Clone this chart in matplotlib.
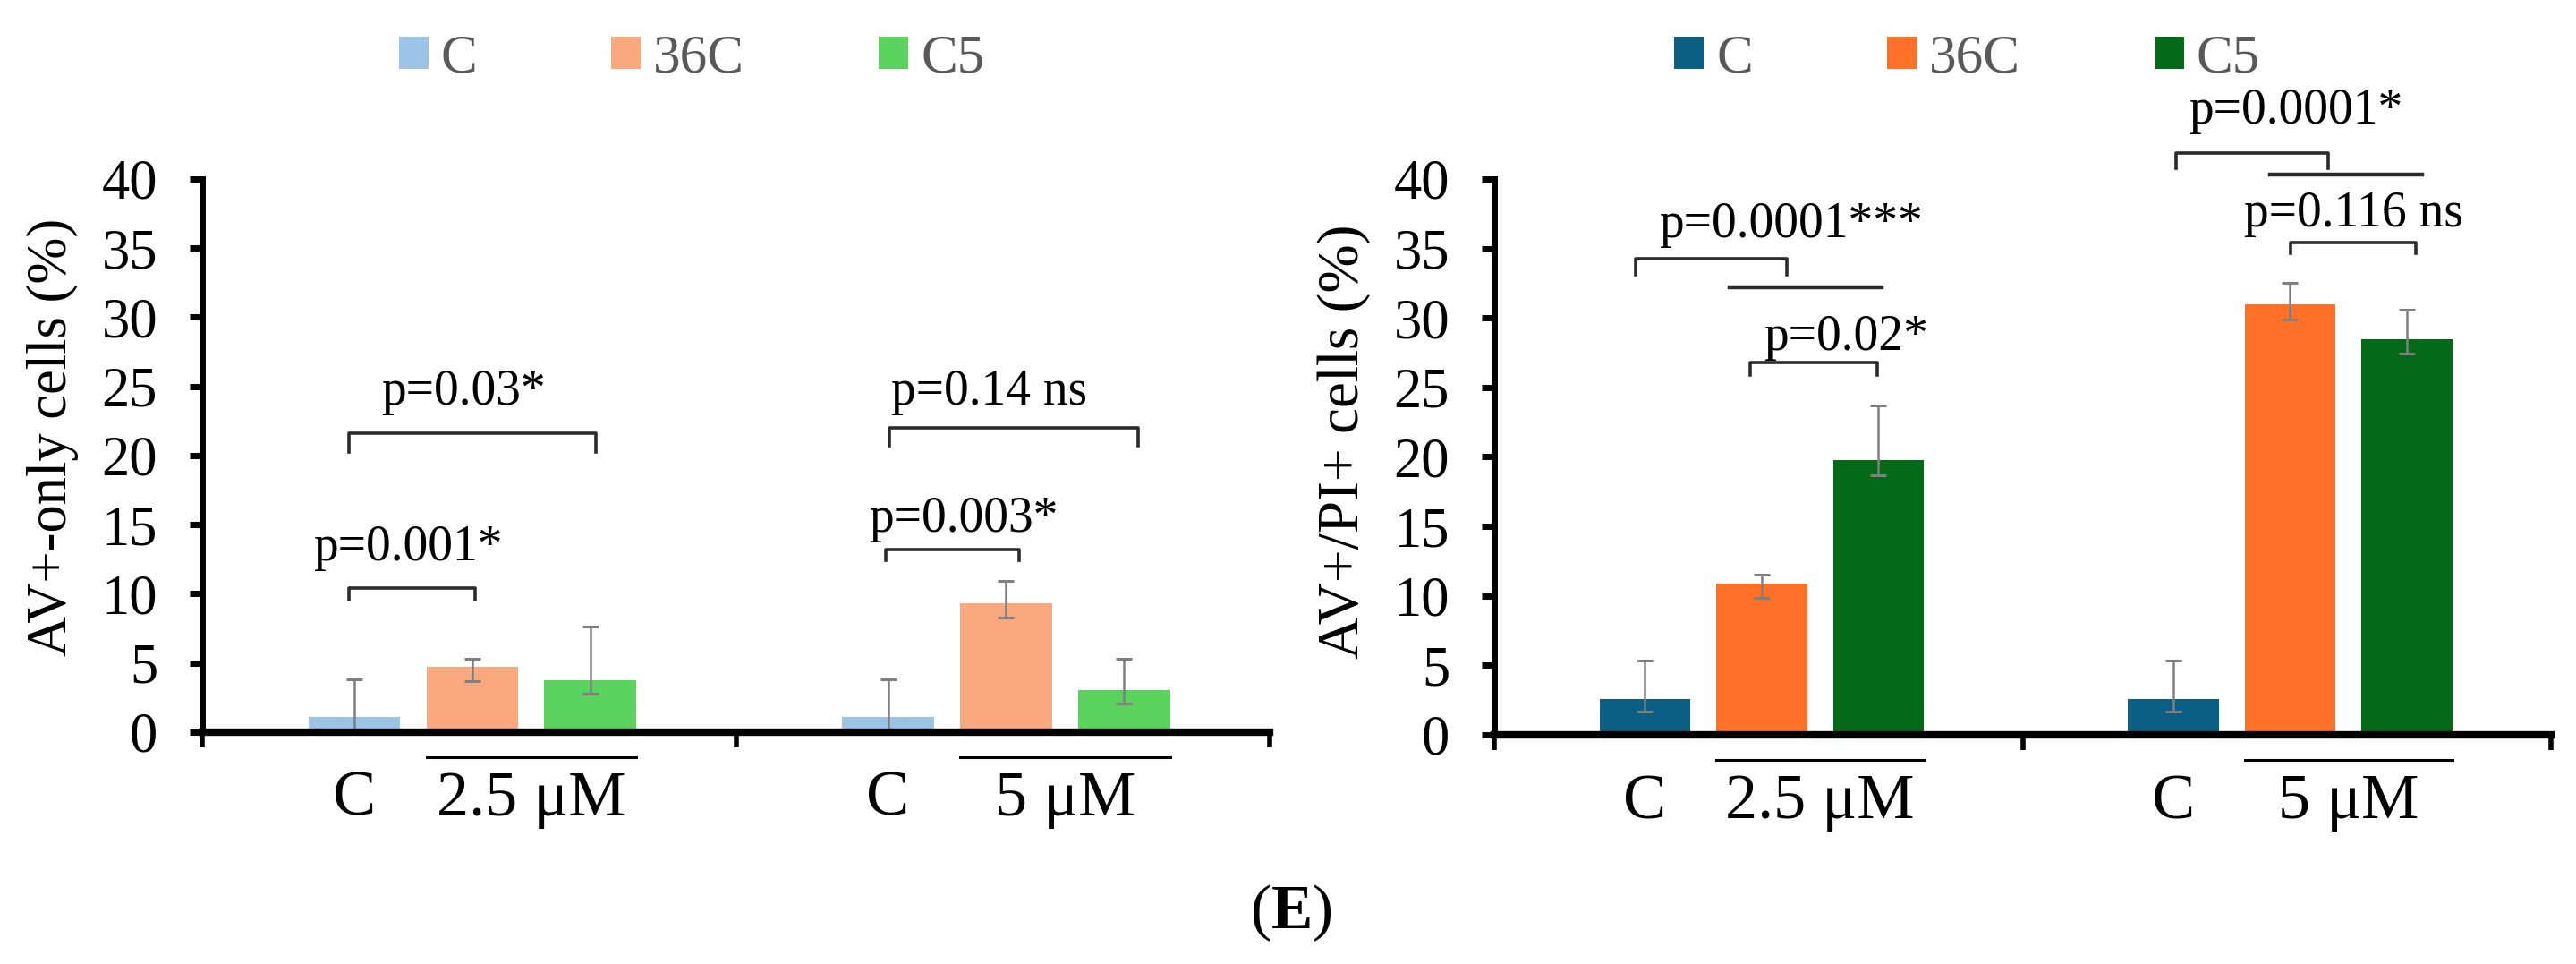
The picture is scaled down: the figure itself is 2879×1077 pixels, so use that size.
import matplotlib
matplotlib.use('Agg')
import matplotlib.pyplot as plt
import numpy as np

plt.rcParams['font.family'] = ['Liberation Serif', 'DejaVu Serif']
plt.rcParams['mathtext.fontset'] = 'custom'
plt.rcParams['mathtext.rm'] = 'Liberation Serif'
plt.rcParams['mathtext.bf'] = 'Liberation Serif:bold'

# data
series = ['C', '36C', 'C5']
doses = ['2.5 μM', '5 μM']

# AV+-only cells (%)
only_C = [1.1, 1.1]
only_C_lo = [1.1, 1.1]
only_C_up = [2.75, 2.75]
only_36C = [4.7, 9.3]
only_36C_lo = [1.0, 1.0]
only_36C_up = [0.6, 1.65]
only_C5 = [3.75, 3.05]
only_C5_lo = [1.0, 1.0]
only_C5_up = [3.9, 2.25]

# AV+/PI+ cells (%)
pi_C = [2.55, 2.55]
pi_C_lo = [0.9, 0.9]
pi_C_up = [2.8, 2.8]
pi_36C = [10.9, 30.95]
pi_36C_lo = [1.05, 1.05]
pi_36C_up = [0.65, 1.6]
pi_C5 = [19.75, 28.45]
pi_C5_lo = [1.05, 1.0]
pi_C5_up = [3.95, 2.15]

left_colors = ['#9DC3E6', '#F9A97D', '#5BD15E']
right_colors = ['#0B5F84', '#FF7029', '#05691A']

fig = plt.figure(figsize=(28.79, 10.77), dpi=100)
ax1 = fig.add_axes([0.0785, 0.2405, 0.4144, 0.5738])
ax2 = fig.add_axes([0.5801, 0.2377, 0.4102, 0.5766])

groups = np.array([0.5, 1.5])
offsets = [-0.215, 0.006, 0.227]
width = 0.172
err_kw = dict(ecolor='#7F7F7F', elinewidth=1.8, capsize=6.5, capthick=2.2)


def draw_panel(ax, vals, los, ups, colors, ylabel, ylabel_size, brackets, label_xy):
    for i in range(3):
        ax.bar(groups + offsets[i], vals[i], width, color=colors[i],
               yerr=[los[i], ups[i]], error_kw=err_kw, label=series[i], zorder=2)
    ax.set_xlim(0, 2)
    ax.set_ylim(0, 40)
    ax.set_yticks(range(0, 41, 5))
    ax.set_xticks([0, 1, 2])
    ax.set_xticklabels([])
    for s in ['top', 'right']:
        ax.spines[s].set_visible(False)
    ax.spines['left'].set_linewidth(5)
    ax.spines['bottom'].set_linewidth(6)
    ax.tick_params(axis='y', direction='out', length=10, width=5, pad=26, labelsize=45)
    ax.tick_params(axis='x', direction='out', length=12, width=4)
    ax.set_ylabel(ylabel, fontsize=ylabel_size)
    ax.yaxis.set_label_coords(*label_xy)

    # group labels under the axis
    for g, dose in zip(groups, doses):
        ax.text(g + offsets[0], -6.0, 'C', ha='center', va='baseline', fontsize=52, clip_on=False)
        mid = g + (offsets[1] + offsets[2]) / 2
        ax.text(mid, -6.0, dose, ha='center', va='baseline', fontsize=52, clip_on=False)
        ax.plot([g + offsets[1] - width / 2, g + offsets[2] + width / 2], [-1.8, -1.8],
                color='black', lw=2.2, clip_on=False)

    # significance brackets
    for x1, x2, y, drop, txt, tx, ty in brackets:
        if drop > 0:
            ax.plot([x1, x1, x2, x2], [y - drop, y, y, y - drop], color='#2b2b2b', lw=2.6,
                    clip_on=False, zorder=3)
        else:
            ax.plot([x1, x2], [y, y], color='#2b2b2b', lw=3.2, clip_on=False, zorder=3)
        if txt:
            ax.text(tx, ty, txt, ha='center', va='baseline', fontsize=40, clip_on=False)


left_brackets = [
    (0.275, 0.511, 10.4, 0.85, 'p=0.001*', 0.386, 12.4),
    (0.275, 0.738, 21.6, 1.35, 'p=0.03*', 0.489, 23.7),
    (1.281, 1.531, 13.2, 0.8, 'p=0.003*', 1.427, 14.5),
    (1.287, 1.754, 22.0, 1.3, 'p=0.14 ns', 1.475, 23.7),
]
right_brackets = [
    (0.267, 0.554, 34.25, 1.15, 'p=0.0001***', 0.561, 35.8),
    (0.445, 0.733, 32.2, 0, '', 0, 0),
    (0.484, 0.725, 26.8, 0.9, 'p=0.02*', 0.666, 27.7),
    (1.290, 1.578, 41.85, 1.1, 'p=0.0001*', 1.517, 44.0),
    (1.468, 1.756, 40.3, 0, '', 0, 0),
    (1.507, 1.744, 35.45, 0.8, 'p=0.116 ns', 1.626, 36.6),
]

draw_panel(ax1, [only_C, only_36C, only_C5], [only_C_lo, only_36C_lo, only_C5_lo],
           [only_C_up, only_36C_up, only_C5_up], left_colors,
           'AV+-only cells (%)', 45, left_brackets, (-0.116, 0.534))
draw_panel(ax2, [pi_C, pi_36C, pi_C5], [pi_C_lo, pi_36C_lo, pi_C5_lo],
           [pi_C_up, pi_36C_up, pi_C5_up], right_colors,
           'AV+/PI+ cells (%)', 47, right_brackets, (-0.117, 0.527))

leg_kw = dict(loc='center', bbox_transform=fig.transFigure, ncol=3, frameon=False,
              fontsize=44, labelcolor='#595959', handlelength=0.54, handleheight=0.54,
              handletextpad=0.23, columnspacing=2.45, borderpad=0)
ax1.legend(bbox_to_anchor=(0.2685, 0.9387), **leg_kw)
ax2.legend(bbox_to_anchor=(0.7637, 0.9387), **leg_kw)

fig.text(0.501, 0.053, r'($\mathbf{E}$)', ha='center', va='center', fontsize=50)

fig.savefig('out.png', dpi=100)
